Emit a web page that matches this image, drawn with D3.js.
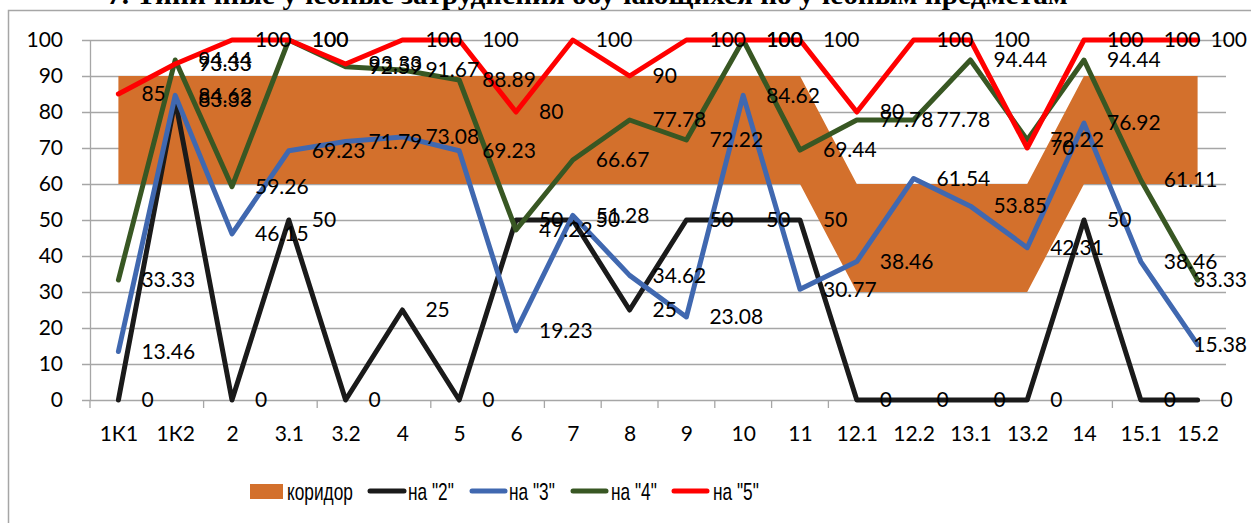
<!DOCTYPE html>
<html lang="ru">
<head>
<meta charset="utf-8">
<title>Типичные учебные затруднения</title>
<script src="https://cdn.jsdelivr.net/npm/d3@7"></script>
<style>
  html, body { margin: 0; padding: 0; background: #ffffff; }
  svg { display: block; }
</style>
</head>
<body>
<svg id="chart" width="1251" height="525"></svg>
<script>
// Subjects / tasks along the horizontal axis
const categories = ["1К1","1К2","2","3.1","3.2","4","5","6","7","8","9","10","11","12.1","12.2","13.1","13.2","14","15.1","15.2"];

// Corridor band: lower bound and band thickness, in percent
const corridorBase  = [60,60,60,60,60,60,60,60,60,60,60,60,60,30,30,30,30,60,60,60];
const corridorWidth = [30,30,30,30,30,30,30,30,30,30,30,30,30,30,30,30,30,30,30,30];

// Share of students who completed the task, by final grade group (%)
const grade2 = [0,83.33,0,50,0,25,0,50,50,25,50,50,50,0,0,0,0,50,0,0];
const grade3 = [13.46,84.62,46.15,69.23,71.79,73.08,69.23,19.23,51.28,34.62,23.08,84.62,30.77,38.46,61.54,53.85,42.31,76.92,38.46,15.38];
const grade4 = [33.33,94.44,59.26,100,92.59,91.67,88.89,47.22,66.67,77.78,72.22,100,69.44,77.78,77.78,94.44,72.22,94.44,61.11,33.33];
const grade5 = [85,93.33,100,100,93.33,100,100,80,100,90,100,100,100,80,100,100,70,100,100,100];

const yTicks = [0,10,20,30,40,50,60,70,80,90,100];
// Category boundaries that carry a tick mark on the horizontal axis
const xTickBoundaries = [0,2,4,6,8,9,10,11,12,13,18];

const titleText = "7. Типичные учебные затруднения обучающихся по учебным предметам";
const legendNames = ["коридор", "на \"2\"", "на \"3\"", "на \"4\"", "на \"5\""];

const colors = {
  corridor: "#D3702C",
  g2: "#1A1A1A",
  g3: "#4068B0",
  g4: "#385723",
  g5: "#FF0000",
  grid: "#A6A6A6"
};

const svg = d3.select("#chart");
const labelFont = "Lato, 'Open Sans', sans-serif";

const x = d3.scalePoint().domain(categories).range([90, 1226]).padding(0.5);
const y = d3.scaleLinear().domain([0, 100]).range([400, 40]);

// Chart area outline (top and left edges are in view)
svg.append("path")
  .attr("d", "M8.5,523 V10.5 H1251")
  .attr("fill", "none")
  .attr("stroke", "#A6A6A6")
  .attr("stroke-width", 1.5);

// Title
const title = svg.append("text")
  .attr("x", 0).attr("y", 4)
  .attr("font-family", "'Liberation Serif', 'Times New Roman', serif")
  .attr("font-weight", "bold")
  .attr("font-size", 28)
  .attr("fill", "#000")
  .text(titleText);
{
  const w = title.node().getComputedTextLength();
  const target = 1068 - 107;
  title.attr("transform", `translate(107,0) scale(${target / w},1)`);
}

// Horizontal gridlines with y-axis labels
const yAxis = d3.axisLeft(y)
  .tickValues(yTicks)
  .tickSizeInner(-(1226 - 82))
  .tickSizeOuter(0)
  .tickPadding(19)
  .tickFormat(d3.format("d"));
const gy = svg.append("g").attr("transform", "translate(82,0)").call(yAxis);
gy.select(".domain").remove();
gy.selectAll(".tick line").attr("stroke", colors.grid).attr("stroke-width", 1.3);
gy.selectAll(".tick text")
  .attr("font-family", labelFont)
  .attr("font-size", 21)
  .attr("fill", "#000");

// Vertical axis line
svg.append("line")
  .attr("x1", 90.5).attr("x2", 90.5)
  .attr("y1", y(100)).attr("y2", y(0))
  .attr("stroke", colors.grid).attr("stroke-width", 1.3);

// Horizontal axis labels
const xAxis = d3.axisBottom(x).tickSize(0).tickPadding(26);
const gx = svg.append("g").attr("transform", `translate(0,${y(0)})`).call(xAxis);
gx.select(".domain").remove();
gx.selectAll(".tick text")
  .attr("font-family", labelFont)
  .attr("font-size", 21)
  .attr("fill", "#000");

// Tick marks on the horizontal axis at category boundaries
const step = x.step();
svg.append("g").selectAll("line")
  .data(xTickBoundaries)
  .join("line")
  .attr("x1", k => x(categories[0]) - step / 2 + k * step)
  .attr("x2", k => x(categories[0]) - step / 2 + k * step)
  .attr("y1", y(0))
  .attr("y2", y(0) + 8)
  .attr("stroke", colors.grid).attr("stroke-width", 1.3);

// Corridor band
const idx = d3.range(categories.length);
const corridorArea = d3.area()
  .x(i => x(categories[i]))
  .y0(i => y(corridorBase[i]))
  .y1(i => y(corridorBase[i] + corridorWidth[i]));
svg.append("path")
  .datum(idx)
  .attr("d", corridorArea)
  .attr("fill", colors.corridor);

// Grade lines
const series = [
  { values: grade2, color: colors.g2 },
  { values: grade3, color: colors.g3 },
  { values: grade4, color: colors.g4 },
  { values: grade5, color: colors.g5 }
];

series.forEach(s => {
  const line = d3.line()
    .x(i => x(categories[i]))
    .y(i => y(s.values[i]));
  svg.append("path")
    .datum(idx)
    .attr("d", line)
    .attr("fill", "none")
    .attr("stroke", s.color)
    .attr("stroke-width", 5)
    .attr("stroke-linejoin", "round")
    .attr("stroke-linecap", "round");
});

// Value labels to the right of each point
const fmt = v => String(+v.toFixed(2));
series.forEach(s => {
  const g = svg.append("g");
  idx.forEach(i => {
    const px = x(categories[i]) + 23;
    const t = g.append("text")
      .attr("x", px)
      .attr("y", y(s.values[i]))
      .attr("dy", "0.35em")
      .attr("font-family", labelFont)
      .attr("font-size", 21)
      .attr("fill", "#000")
      .text(fmt(s.values[i]));
    const len = t.node().getComputedTextLength();
    if (px + len > 1247) t.attr("x", 1247 - len);
  });
});

// Legend
const legend = svg.append("g");
const legendY = 491;
legend.append("rect")
  .attr("x", 250).attr("y", 484)
  .attr("width", 33).attr("height", 15)
  .attr("fill", colors.corridor);
const legendSwatches = [
  { x1: 370, x2: 404, color: colors.g2 },
  { x1: 472, x2: 505, color: colors.g3 },
  { x1: 573, x2: 606, color: colors.g4 },
  { x1: 674, x2: 707, color: colors.g5 }
];
legendSwatches.forEach(s => {
  legend.append("line")
    .attr("x1", s.x1).attr("x2", s.x2)
    .attr("y1", legendY).attr("y2", legendY)
    .attr("stroke", s.color)
    .attr("stroke-width", 5)
    .attr("stroke-linecap", "round");
});
const legendTextX = [287, 408, 509, 611, 713];
legendNames.forEach((name, i) => {
  legend.append("g")
    .attr("transform", `translate(${legendTextX[i]},${legendY}) scale(0.72,1)`)
    .append("text")
    .attr("x", 0).attr("y", 0)
    .attr("dy", "0.36em")
    .attr("font-family", "'Liberation Sans', Arial, sans-serif")
    .attr("font-size", 24)
    .attr("fill", "#000")
    .text(name);
});
</script>
</body>
</html>
